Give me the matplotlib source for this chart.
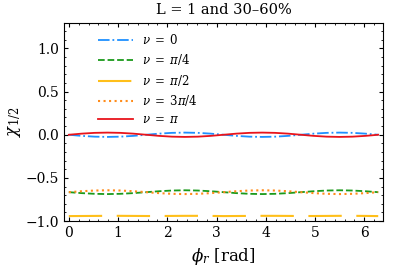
import numpy as np
import matplotlib
matplotlib.use('Agg')
import matplotlib.pyplot as plt

plt.rcParams['font.family'] = ['DejaVu Serif']
plt.rcParams['mathtext.fontset'] = 'dejavuserif'
plt.rcParams['xtick.direction'] = 'in'
plt.rcParams['ytick.direction'] = 'in'
plt.rcParams['xtick.top'] = True
plt.rcParams['ytick.right'] = True
plt.rcParams['xtick.minor.visible'] = True
plt.rcParams['ytick.minor.visible'] = True
plt.rcParams['xtick.major.size'] = 3
plt.rcParams['ytick.major.size'] = 3
plt.rcParams['xtick.minor.size'] = 1.5
plt.rcParams['ytick.minor.size'] = 1.5

# phi_r sampled every pi/12 over [0, 2pi]
phi = [0.000, 0.262, 0.524, 0.785, 1.047, 1.309, 1.571, 1.833, 2.094, 2.356,
       2.618, 2.880, 3.142, 3.403, 3.665, 3.927, 4.189, 4.451, 4.712, 4.974,
       5.236, 5.498, 5.760, 6.021, 6.283]

chi_nu0 = [0.000, -0.013, -0.022, -0.025, -0.022, -0.013, 0.000, 0.013, 0.022, 0.025,
           0.022, 0.013, 0.000, -0.013, -0.022, -0.025, -0.022, -0.013, 0.000, 0.013,
           0.022, 0.025, 0.022, 0.013, 0.000]
chi_nu_pi4 = [-0.665, -0.676, -0.684, -0.687, -0.684, -0.676, -0.665, -0.654, -0.646, -0.643,
              -0.646, -0.654, -0.665, -0.676, -0.684, -0.687, -0.684, -0.676, -0.665, -0.654,
              -0.646, -0.643, -0.646, -0.654, -0.665]
chi_nu_pi2 = [-0.942, -0.941, -0.940, -0.939, -0.939, -0.940, -0.941, -0.941, -0.940, -0.939,
              -0.939, -0.940, -0.942, -0.941, -0.940, -0.939, -0.939, -0.940, -0.941, -0.941,
              -0.940, -0.939, -0.939, -0.940, -0.942]
chi_nu_3pi4 = [-0.665, -0.654, -0.646, -0.643, -0.646, -0.654, -0.665, -0.676, -0.684, -0.687,
               -0.684, -0.676, -0.665, -0.654, -0.646, -0.643, -0.646, -0.654, -0.665, -0.676,
               -0.684, -0.687, -0.684, -0.676, -0.665]
chi_nu_pi = [0.000, 0.013, 0.022, 0.025, 0.022, 0.013, 0.000, -0.013, -0.022, -0.025,
             -0.022, -0.013, 0.000, 0.013, 0.022, 0.025, 0.022, 0.013, 0.000, -0.013,
             -0.022, -0.025, -0.022, -0.013, 0.000]

labels = [r'$\nu\;=\;0$', r'$\nu\;=\;\pi/4$', r'$\nu\;=\;\pi/2$',
          r'$\nu\;=\;3\pi/4$', r'$\nu\;=\;\pi$']

fig = plt.figure(figsize=(4.07, 2.68), dpi=100)
ax = fig.add_axes([0.157, 0.175, 0.784, 0.741])

ax.plot(phi, chi_nu0, color='#1e90ff', linestyle='-.', lw=1.3, label=labels[0])
ax.plot(phi, chi_nu_pi4, color='#1a9a1a', linestyle='--', lw=1.3, label=labels[1])
ax.plot(phi, chi_nu_pi2, color='#ffbf1a', linestyle=(0, (16, 7)), lw=1.5, label=labels[2])
ax.plot(phi, chi_nu_3pi4, color='#ff8c1a', linestyle=':', lw=1.5, label=labels[3])
ax.plot(phi, chi_nu_pi, color='#e8141b', linestyle='-', lw=1.3, label=labels[4])

ax.set_xlim(-0.1, 6.38)
ax.set_ylim(-1.0, 1.3)
ax.set_xticks([0, 1, 2, 3, 4, 5, 6])
ax.set_yticks([-1.0, -0.5, 0.0, 0.5, 1.0])
ax.tick_params(labelsize=10)
ax.set_title('L = 1 and 30\u201360%', fontsize=10.5)
ax.set_xlabel(r'$\phi_r$ [rad]', fontsize=12)
ax.set_ylabel(r'$\chi_{1/2}$', fontsize=12, labelpad=2)

ax.legend(loc='upper left', frameon=False, fontsize=8.5, handlelength=2.9,
          handletextpad=0.8, labelspacing=0.45, bbox_to_anchor=(0.075, 1.0))

fig.savefig('out.png', dpi=100)
